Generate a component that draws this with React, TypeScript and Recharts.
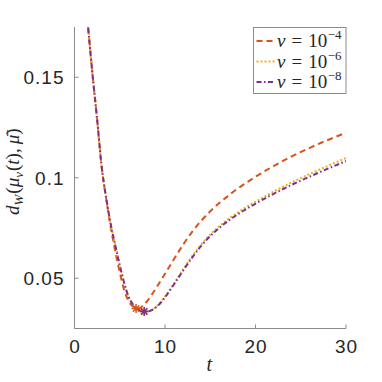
import React from 'react';
import { ComposedChart, Line, Scatter, XAxis, YAxis, Legend } from 'recharts';

// ---- data ----
const T = [1.4, 1.5, 2, 2.5, 3, 3.5, 4, 4.5, 5, 5.5, 6, 6.5, 7, 7.5, 8, 8.5, 9, 9.5, 10, 11, 12, 13, 14, 15, 16, 17, 18, 19, 20, 22, 24, 26, 28, 30];
const NU4 = [0.18, 0.175, 0.151, 0.129, 0.1055, 0.0895, 0.0755, 0.0635, 0.053, 0.044, 0.0385, 0.0358, 0.0349, 0.0361, 0.0385, 0.0416, 0.045, 0.0486, 0.0522, 0.0596, 0.0667, 0.0731, 0.0786, 0.0833, 0.0874, 0.0911, 0.0945, 0.0976, 0.1005, 0.1058, 0.1106, 0.1149, 0.1188, 0.1224];
const NU6 = [0.18, 0.175, 0.151, 0.129, 0.1055, 0.09, 0.077, 0.0665, 0.0565, 0.0475, 0.0405, 0.0367, 0.0346, 0.0336, 0.0336, 0.0342, 0.0358, 0.0380, 0.0409, 0.0475, 0.0544, 0.0610, 0.0668, 0.0718, 0.0759, 0.0795, 0.0826, 0.0855, 0.0881, 0.0931, 0.0977, 0.1019, 0.1059, 0.1098];
const NU8 = [0.18, 0.175, 0.151, 0.129, 0.1055, 0.09, 0.077, 0.0665, 0.0565, 0.0475, 0.0405, 0.0367, 0.0346, 0.0336, 0.0335, 0.034, 0.0355, 0.0377, 0.0405, 0.047, 0.0538, 0.0603, 0.0661, 0.071, 0.0751, 0.0786, 0.0817, 0.0845, 0.0871, 0.092, 0.0965, 0.1006, 0.1045, 0.1083];
const MIN_T = [6.8, 7.7, 7.7];
const MIN_V = [0.0349, 0.0335, 0.0335];
const EXPONENTS = ['\u22124', '\u22126', '\u22128'];
const X_TICKS = [0, 10, 20, 30];
const Y_TICKS = [0.05, 0.1, 0.15];

const SERIES = [
  { key: 'a', color: '#D95319', dash: '6 4', width: 2 },
  { key: 'b', color: '#EDB120', dash: '2 2', width: 2 },
  { key: 'c', color: '#7E2F8E', dash: '5 2.5 1.5 2.5', width: 2 },
];

const data = T.map((t, i) => ({ t, a: NU4[i], b: NU6[i], c: NU8[i] }));

const AX = '#8a8a8a';
const TXT = '#262626';
const SANS = '"Liberation Sans", Arial, sans-serif';
const SERIF = '"Liberation Serif", "Times New Roman", serif';

function XTick(props: any) {
  const { x, y, payload } = props;
  return (
    <g>
      <line x1={x} y1={y} x2={x} y2={y - 4} stroke={AX} />
      <text x={x + 0.5} y={y + 24} textAnchor="middle" fontFamily={SANS} fontSize={19} letterSpacing={1} fill={TXT}>{payload.value}</text>
    </g>
  );
}
function TopTick(props: any) {
  const { x, y } = props;
  return <line x1={x} y1={y} x2={x} y2={y + 4} stroke={AX} />;
}
function YTick(props: any) {
  const { x, y, payload } = props;
  return (
    <g>
      <line x1={x} y1={y} x2={x + 4} y2={y} stroke={AX} />
      <text x={x - 10} y={y + 7} textAnchor="end" fontFamily={SANS} fontSize={19} letterSpacing={1} fill={TXT}>{payload.value}</text>
    </g>
  );
}
function RightTick(props: any) {
  const { x, y } = props;
  return <line x1={x} y1={y} x2={x - 4} y2={y} stroke={AX} />;
}
function XLabel(props: any) {
  const vb = props.viewBox || { x: 74.5, width: 271.5, y: 328.5 };
  return (
    <text x={vb.x + vb.width / 2 - 1} y={371} textAnchor="middle" fontFamily={SERIF} fontStyle="italic" fontSize={20} fill={TXT}>t</text>
  );
}
function YLabel(props: any) {
  const vb = props.viewBox || { x: 0, y: 27, height: 301.5 };
  const cx = 18.5;
  const cy = vb.y + vb.height / 2 - 6;
  return (
    <text transform={`translate(${cx},${cy}) rotate(-90)`} textAnchor="middle" fontFamily={SERIF} fontSize={19} fill={TXT}>
      <tspan fontStyle="italic">d</tspan>
      <tspan fontStyle="italic" fontSize={13} dy={4}>W</tspan>
      <tspan dy={-4} dx={1}>(</tspan>
      <tspan fontStyle="italic">μ</tspan>
      <tspan fontStyle="italic" fontSize={13} dy={4}>ν</tspan>
      <tspan dy={-4} dx={1}>(</tspan>
      <tspan fontStyle="italic">t</tspan>
      <tspan>),</tspan>
      <tspan dx={4} fontStyle="italic">μ̄</tspan>
      <tspan>)</tspan>
    </text>
  );
}

function LegendBox() {
  return (
    <svg width={94} height={67} style={{ display: 'block' }}>
      <rect x={0.5} y={0.5} width={92.5} height={66} fill="#fff" stroke={AX} />
      {SERIES.map((s, i) => {
        const cy = 13.9 + i * 20.6;
        return (
          <g key={s.key}>
            <line x1={3.5} x2={21.5} y1={cy} y2={cy} stroke={s.color} strokeWidth={s.width} strokeDasharray={s.dash} />
            <text x={24} y={cy + 6} fontFamily={SERIF} fontSize={19} fill={TXT}>
              <tspan fontStyle="italic">ν</tspan>
              <tspan dx={6}>=</tspan>
              <tspan dx={6}>10</tspan>
              <tspan dy={-8} dx={0.5} fontSize={13}>{EXPONENTS[i]}</tspan>
            </text>
          </g>
        );
      })}
    </svg>
  );
}

function makeStar(color: string) {
  return (props: any) => {
    const { cx, cy } = props;
    const r = 4.5;
    const d = r * 0.707;
    return (
      <g stroke={color} strokeWidth={1.5}>
        <line x1={cx - r} y1={cy} x2={cx + r} y2={cy} />
        <line x1={cx} y1={cy - r} x2={cx} y2={cy + r} />
        <line x1={cx - d} y1={cy - d} x2={cx + d} y2={cy + d} />
        <line x1={cx - d} y1={cy + d} x2={cx + d} y2={cy - d} />
      </g>
    );
  };
}

export default function App() {
  return (
    <div style={{ position: 'absolute', left: 0, top: 0, width: 382, height: 382, background: '#fff' }}>
      <ComposedChart width={382} height={382} data={data} margin={{ top: 27, right: 36, bottom: 0, left: 0 }}>
        <XAxis dataKey="t" type="number" domain={[0, 30]} ticks={X_TICKS} interval={0} height={53.5}
          stroke={AX} tickLine={false} tickSize={0} tickMargin={0} tick={<XTick />} label={<XLabel />} allowDataOverflow />
        <XAxis xAxisId="top" orientation="top" dataKey="t" type="number" domain={[0, 30]} ticks={X_TICKS} interval={0} height={0}
          stroke={AX} tickLine={false} tickSize={0} tickMargin={0} tick={<TopTick />} allowDataOverflow />
        <YAxis type="number" domain={[0.025, 0.175]} ticks={Y_TICKS} interval={0} width={74.5}
          stroke={AX} tickLine={false} tickSize={0} tickMargin={0} tick={<YTick />} label={<YLabel />} allowDataOverflow />
        <YAxis yAxisId="right" orientation="right" type="number" domain={[0.025, 0.175]} ticks={Y_TICKS} interval={0} width={0}
          stroke={AX} tickLine={false} tickSize={0} tickMargin={0} tick={<RightTick />} allowDataOverflow />
        {SERIES.map((s) => (
          <Line key={s.key} dataKey={s.key} type="monotone" stroke={s.color} strokeWidth={s.width}
            strokeDasharray={s.dash} dot={false} activeDot={false} isAnimationActive={false} />
        ))}
        {SERIES.map((s, i) => (
          <Scatter key={'m' + s.key} data={[{ t: MIN_T[i], v: MIN_V[i] }]} dataKey="v"
            shape={makeStar(s.color)} isAnimationActive={false} />
        ))}
        <Legend layout="horizontal" verticalAlign="middle" align="center" content={<LegendBox />}
          wrapperStyle={{ position: 'absolute', left: 253, top: 27, width: 94, height: 67 }} />
      </ComposedChart>
    </div>
  );
}
